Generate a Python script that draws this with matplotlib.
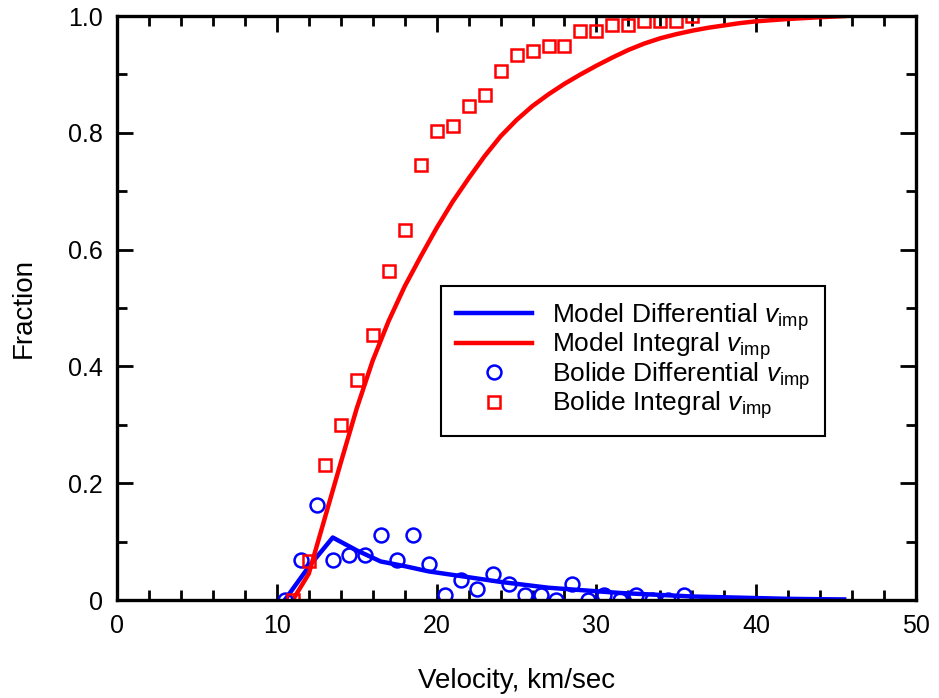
import matplotlib.pyplot as plt
from matplotlib.ticker import MultipleLocator

plt.rcParams['font.family'] = ['Liberation Sans', 'DejaVu Sans']
plt.rcParams['mathtext.fontset'] = 'custom'
plt.rcParams['mathtext.rm'] = 'Liberation Sans'
plt.rcParams['mathtext.it'] = 'Liberation Sans:italic'

# modelo: distribucion diferencial de velocidades de impacto
vel_modelo_dif = [10.5, 12.0, 13.5, 15.0, 16.5, 18.0, 19.5, 21.0, 22.5, 24.0, 25.5, 27.0,
                  28.5, 30.0, 31.5, 33.0, 34.5, 36.0, 37.5, 39.0, 40.5, 42.0, 43.5, 45.5]
frac_modelo_dif = [0.0, 0.057, 0.107, 0.085, 0.066, 0.058, 0.049, 0.043, 0.037, 0.031, 0.026, 0.021,
                   0.018, 0.015, 0.012, 0.010, 0.008, 0.006, 0.005, 0.004, 0.003, 0.002, 0.0015, 0.001]

# modelo: distribucion integral
vel_modelo_int = [11, 12, 13, 14, 15, 16, 17, 18, 19, 20, 21, 22, 23, 24, 25, 26, 27, 28, 29, 30,
                  31, 32, 33, 34, 35, 36, 37, 38, 39, 40, 42, 44, 45.5]
frac_modelo_int = [0.0, 0.045, 0.14, 0.235, 0.328, 0.41, 0.478, 0.537, 0.588, 0.637, 0.682, 0.722,
                   0.76, 0.794, 0.822, 0.846, 0.866, 0.884, 0.900, 0.915, 0.929, 0.942, 0.953,
                   0.962, 0.969, 0.975, 0.980, 0.984, 0.988, 0.991, 0.995, 0.998, 1.0]

# bolidos observados
vel_bolido_dif = [10.5, 11.5, 12.5, 13.5, 14.5, 15.5, 16.5, 17.5, 18.5, 19.5, 20.5, 21.5, 22.5,
                  23.5, 24.5, 25.5, 26.5, 27.5, 28.5, 29.5, 30.5, 31.5, 32.5, 33.5, 34.5, 35.5]
frac_bolido_dif = [0.0, 0.069, 0.163, 0.069, 0.077, 0.077, 0.111, 0.069, 0.111, 0.061, 0.009, 0.035, 0.018,
                   0.044, 0.027, 0.009, 0.009, 0.0, 0.027, 0.0, 0.009, 0.0, 0.009, 0.0, 0.0, 0.009]

vel_bolido_int = [11, 12, 13, 14, 15, 16, 17, 18, 19, 20, 21, 22, 23,
                  24, 25, 26, 27, 28, 29, 30, 31, 32, 33, 34, 35, 36]
frac_bolido_int = [0.0, 0.067, 0.232, 0.299, 0.376, 0.453, 0.564, 0.633, 0.745, 0.804, 0.812, 0.846, 0.864,
                   0.906, 0.933, 0.940, 0.949, 0.949, 0.975, 0.975, 0.985, 0.985, 0.991, 0.991, 0.991, 1.0]

fig = plt.figure(figsize=(9.39, 6.98), dpi=100)
ax = fig.add_axes([0.1246, 0.1404, 0.851, 0.8366])

ax.plot(vel_modelo_dif, frac_modelo_dif, color='blue', lw=3.2,
        label=r'Model Differential $\mathit{v}_\mathrm{imp}$')
ax.plot(vel_modelo_int, frac_modelo_int, color='red', lw=3.2,
        label=r'Model Integral $\mathit{v}_\mathrm{imp}$')
ax.plot(vel_bolido_dif, frac_bolido_dif, 'o', mfc='none', mec='blue', mew=1.8, ms=10,
        label=r'Bolide Differential $\mathit{v}_\mathrm{imp}$')
ax.plot(vel_bolido_int, frac_bolido_int, 's', mfc='none', mec='red', mew=1.8, ms=9,
        label=r'Bolide Integral $\mathit{v}_\mathrm{imp}$')

ax.set_xlim(0, 50)
ax.set_ylim(0, 1.0)
ax.xaxis.set_major_locator(MultipleLocator(10))
ax.xaxis.set_minor_locator(MultipleLocator(2))
ax.yaxis.set_minor_locator(MultipleLocator(0.1))
ax.set_yticks([0, 0.2, 0.4, 0.6, 0.8, 1.0])
ax.set_yticklabels(['0', '0.2', '0.4', '0.6', '0.8', '1.0'])

ax.tick_params(which='both', direction='in', top=True, right=True, width=2, labelsize=18)
ax.tick_params(which='major', length=11.5)
ax.tick_params(which='minor', length=7)
ax.tick_params(axis='x', pad=10)
ax.tick_params(axis='y', pad=10)
for s in ax.spines.values():
    s.set_linewidth(2.4)

ax.set_xlabel('Velocity, km/sec', fontsize=20, labelpad=22)
ax.set_ylabel('Fraction', fontsize=20, labelpad=23)

leg = ax.legend(loc='upper left', bbox_to_anchor=(0.406, 0.537), borderaxespad=0,
                fontsize=19, fancybox=False, framealpha=1, edgecolor='black',
                handlelength=2.9, handletextpad=0.75, labelspacing=-0.08, borderpad=0.55)
leg.get_frame().set_linewidth(1.5)

plt.savefig('out.png')
